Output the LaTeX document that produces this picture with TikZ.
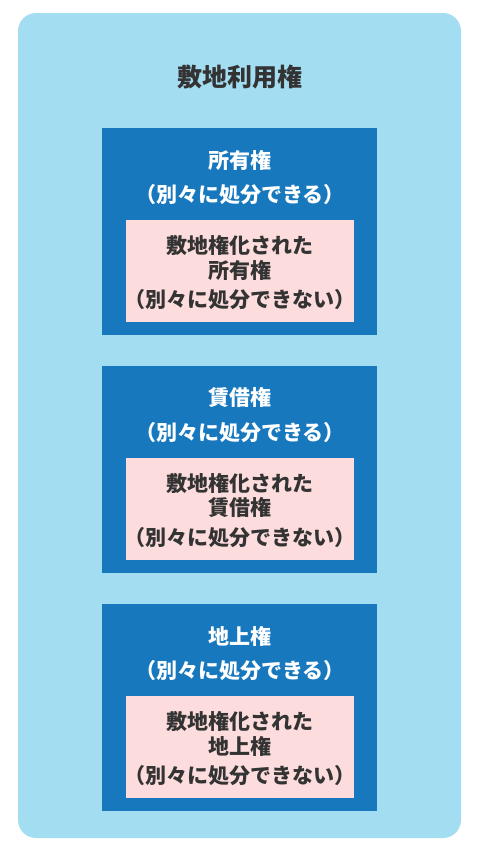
\documentclass[tikz,border=0pt]{standalone}
\usepackage{fontspec}
\usepackage{xcolor}
\usepackage{tikz}
\usetikzlibrary{positioning}
\newfontfamily\jpfont{Noto Sans CJK JP}

\definecolor{areablue}{HTML}{A3DDF2}
\definecolor{rightblue}{HTML}{1878BE}
\definecolor{sitepink}{HTML}{FCDCDC}
\definecolor{textgray}{HTML}{333333}

\begin{document}
\begin{tikzpicture}[x=1pt, y=-1pt,
        every node/.style={font=\jpfont\bfseries, inner sep=0pt, outer sep=0pt},
        rightbox/.style={fill=rightblue, minimum width=275pt, minimum height=207pt},
        sitebox/.style={fill=sitepink, minimum width=228pt, minimum height=102pt},
        whitetext/.style={text=white, font=\jpfont\bfseries\fontsize{21}{24}\selectfont},
        darktext/.style={text=textgray, font=\jpfont\bfseries\fontsize{21}{24}\selectfont}]
        \useasboundingbox (0,0) rectangle (480,855);

        % Outer area
        \node[fill=areablue, rounded corners=18pt, minimum width=443pt, minimum height=825pt] (area) at (239.5,425.5) {};
        \node[text=textgray, font=\jpfont\bfseries\fontsize{25}{28}\selectfont] (title) at (240,77) {敷地利用権};

        % Ownership
        \node[rightbox] (own) at (239.5,231.5) {};
        \node[whitetext] (ownname) at (240,160) {所有権};
        \node[whitetext] (ownfree) at (240,195) {（別々に処分できる）};
        \node[sitebox] (ownsite) at (240,271) {};
        \node[darktext] (ownsitea) at (240,245) {敷地権化された};
        \node[darktext] (ownsiteb) at (240,270) {所有権};
        \node[darktext] (ownsitec) at (240,300) {（別々に処分できない）};

        % Lease
        \node[rightbox] (lease) at (239.5,469.5) {};
        \node[whitetext] (leasename) at (240,398) {賃借権};
        \node[whitetext] (leasefree) at (240,433) {（別々に処分できる）};
        \node[sitebox] (leasesite) at (240,509) {};
        \node[darktext] (leasesitea) at (240,483) {敷地権化された};
        \node[darktext] (leasesiteb) at (240,508) {賃借権};
        \node[darktext] (leasesitec) at (240,538) {（別々に処分できない）};

        % Superficies
        \node[rightbox] (super) at (239.5,707.5) {};
        \node[whitetext] (supername) at (240,636) {地上権};
        \node[whitetext] (superfree) at (240,671) {（別々に処分できる）};
        \node[sitebox] (supersite) at (240,747) {};
        \node[darktext] (supersitea) at (240,721) {敷地権化された};
        \node[darktext] (supersiteb) at (240,746) {地上権};
        \node[darktext] (supersitec) at (240,776) {（別々に処分できない）};
    \end{tikzpicture}
\end{document}
